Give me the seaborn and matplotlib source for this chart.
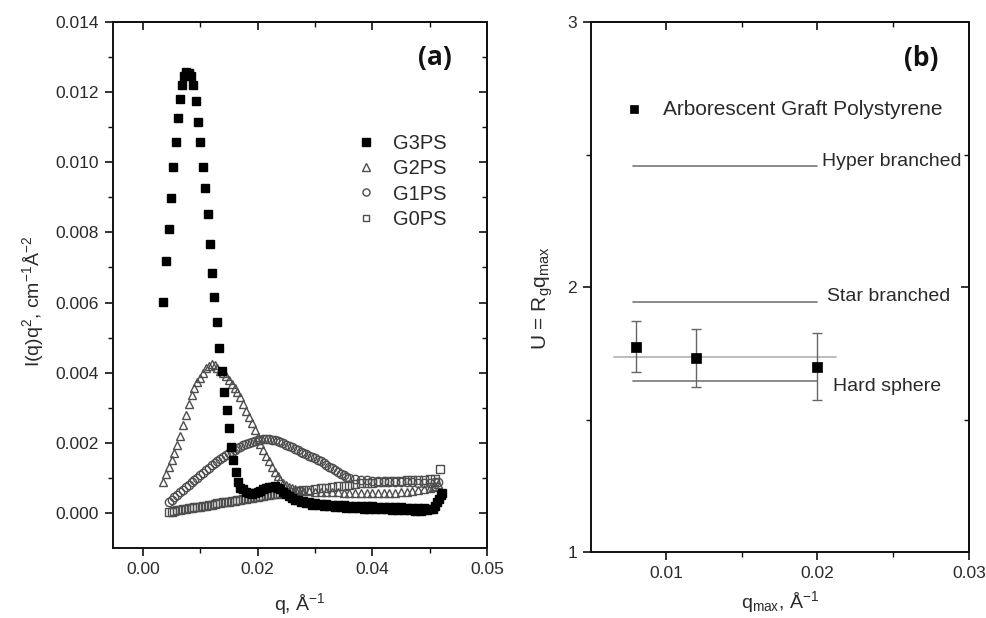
import numpy as np
import pandas as pd
import matplotlib
matplotlib.use("Agg")
import matplotlib.pyplot as plt
from matplotlib.ticker import FixedLocator, FormatStrFormatter
import seaborn as sns

# ---------------- data: panel (a) ----------------
g3_q = [0.0035, 0.0040, 0.0045, 0.0049, 0.0052, 0.0057, 0.0061, 0.0065, 0.0068, 0.0072,
        0.0076, 0.0080, 0.0084, 0.0087, 0.0093, 0.0096, 0.0100, 0.0105, 0.0108, 0.0114,
        0.0117, 0.0121, 0.0124, 0.0129, 0.0133, 0.0138, 0.0142, 0.0147, 0.0150, 0.0154,
        0.0157, 0.0163, 0.0166, 0.0170,
        0.0175, 0.0180, 0.0185, 0.0190, 0.0195, 0.0200, 0.0205, 0.0210, 0.0215, 0.0220,
        0.0225, 0.0230, 0.0235, 0.0240, 0.0245, 0.0250, 0.0255, 0.0260, 0.0265, 0.0270,
        0.0275, 0.0280, 0.0285, 0.0290, 0.0295, 0.0300, 0.0305, 0.0310, 0.0315, 0.0320,
        0.0325, 0.0330, 0.0335, 0.0340, 0.0345, 0.0350, 0.0355, 0.0360, 0.0365, 0.0370,
        0.0375, 0.0380, 0.0385, 0.0390, 0.0395, 0.0400, 0.0405, 0.0410, 0.0415, 0.0420,
        0.0425, 0.0430, 0.0435, 0.0440, 0.0445, 0.0450, 0.0455, 0.0460, 0.0465, 0.0470,
        0.0475, 0.0480, 0.0485, 0.0490, 0.0495, 0.0500, 0.0505, 0.0510, 0.0513, 0.0516,
        0.0519, 0.0521]
g3_y = [0.00602, 0.00719, 0.00810, 0.00899, 0.00987, 0.01058, 0.01127, 0.01181, 0.01221, 0.01245,
        0.01258, 0.01255, 0.01245, 0.01221, 0.01175, 0.01116, 0.01058, 0.00987, 0.00927, 0.00853,
        0.00767, 0.00685, 0.00616, 0.00545, 0.00471, 0.00405, 0.00345, 0.00294, 0.00243, 0.00188,
        0.00151, 0.00117, 0.00089, 0.00072,
        0.00068, 0.00060, 0.00058, 0.00055, 0.00058, 0.00060, 0.00063, 0.00068, 0.00071, 0.00075,
        0.00073, 0.00076, 0.00071, 0.00068, 0.00060, 0.00055, 0.00047, 0.00044, 0.00038, 0.00036,
        0.00031, 0.00033, 0.00027, 0.00030, 0.00024, 0.00028, 0.00022, 0.00026, 0.00020, 0.00025,
        0.00019, 0.00024, 0.00017, 0.00023, 0.00016, 0.00022, 0.00015, 0.00021, 0.00014, 0.00021,
        0.00013, 0.00020, 0.00012, 0.00019, 0.00012, 0.00019, 0.00011, 0.00018, 0.00010, 0.00018,
        0.00010, 0.00017, 0.00009, 0.00017, 0.00008, 0.00016, 0.00008, 0.00015, 0.00007, 0.00015,
        0.00006, 0.00014, 0.00006, 0.00013, 0.00007, 0.00012, 0.00010, 0.00020, 0.00030, 0.00040,
        0.00050, 0.00057]

g2_q = [0.0035, 0.0040, 0.0045, 0.0050, 0.0055, 0.0060, 0.0065, 0.0070, 0.0075, 0.0080,
        0.0085, 0.0090, 0.0095, 0.0100, 0.0105, 0.0110, 0.0115, 0.0120, 0.0125, 0.0130,
        0.0135, 0.0140, 0.0145, 0.0150, 0.0155, 0.0160, 0.0165, 0.0170, 0.0175, 0.0180,
        0.0185, 0.0190, 0.0195, 0.0200, 0.0205, 0.0210, 0.0215, 0.0220, 0.0225, 0.0230,
        0.0235, 0.0240, 0.0245, 0.0250, 0.0255, 0.0260, 0.0265, 0.0270, 0.0275, 0.0280,
        0.0290, 0.0300, 0.0310, 0.0320, 0.0330, 0.0340, 0.0350, 0.0360, 0.0370, 0.0380,
        0.0390, 0.0400, 0.0410, 0.0420, 0.0430, 0.0440, 0.0450, 0.0460, 0.0470, 0.0480,
        0.0490, 0.0500, 0.0505, 0.0510, 0.0515]
g2_y = [0.00088, 0.00110, 0.00130, 0.00150, 0.00172, 0.00195, 0.00220, 0.00250, 0.00280, 0.00310,
        0.00335, 0.00355, 0.00372, 0.00386, 0.00400, 0.00412, 0.00420, 0.00426, 0.00422, 0.00414,
        0.00406, 0.00398, 0.00390, 0.00380, 0.00368, 0.00356, 0.00345, 0.00332, 0.00312, 0.00292,
        0.00274, 0.00256, 0.00236, 0.00216, 0.00198, 0.00180, 0.00163, 0.00148, 0.00132, 0.00118,
        0.00105, 0.00094, 0.00086, 0.00080, 0.00075, 0.00071, 0.00068, 0.00066, 0.00064, 0.00063,
        0.00062, 0.00061, 0.00060, 0.00060, 0.00059, 0.00059, 0.00058, 0.00058, 0.00058, 0.00057,
        0.00057, 0.00057, 0.00057, 0.00057, 0.00058, 0.00058, 0.00059, 0.00060, 0.00062, 0.00064,
        0.00067, 0.00071, 0.00074, 0.00078, 0.00082]

g1_q = [0.0045, 0.0050, 0.0055, 0.0060, 0.0065, 0.0070, 0.0075, 0.0080, 0.0085, 0.0090,
        0.0095, 0.0100, 0.0105, 0.0110, 0.0115, 0.0120, 0.0125, 0.0130, 0.0135, 0.0140,
        0.0145, 0.0150, 0.0155, 0.0160, 0.0165, 0.0170, 0.0175, 0.0180, 0.0185, 0.0190,
        0.0195, 0.0200, 0.0205, 0.0210, 0.0215, 0.0220, 0.0225, 0.0230, 0.0235, 0.0240,
        0.0245, 0.0250, 0.0255, 0.0260, 0.0265, 0.0270, 0.0275, 0.0280, 0.0285, 0.0290,
        0.0295, 0.0300, 0.0305, 0.0310, 0.0315, 0.0320, 0.0325, 0.0330, 0.0335, 0.0340,
        0.0345, 0.0350, 0.0355, 0.0360, 0.0370, 0.0380, 0.0390, 0.0400, 0.0410, 0.0420,
        0.0430, 0.0440, 0.0450, 0.0460, 0.0470, 0.0480, 0.0490, 0.0500, 0.0510, 0.0515]
g1_y = [0.00030, 0.00038, 0.00045, 0.00052, 0.00059, 0.00066, 0.00073, 0.00080, 0.00087, 0.00094,
        0.00101, 0.00108, 0.00115, 0.00122, 0.00129, 0.00136, 0.00142, 0.00148, 0.00154, 0.00160,
        0.00165, 0.00170, 0.00175, 0.00180, 0.00185, 0.00189, 0.00193, 0.00197, 0.00200, 0.00203,
        0.00205, 0.00207, 0.00209, 0.00210, 0.00211, 0.00210, 0.00209, 0.00207, 0.00205, 0.00202,
        0.00199, 0.00195, 0.00191, 0.00187, 0.00183, 0.00179, 0.00175, 0.00171, 0.00167, 0.00163,
        0.00160, 0.00157, 0.00152, 0.00147, 0.00142, 0.00137, 0.00132, 0.00127, 0.00122, 0.00117,
        0.00112, 0.00107, 0.00103, 0.00100, 0.00096, 0.00094, 0.00093, 0.00092, 0.00091, 0.00090,
        0.00089, 0.00088, 0.00088, 0.00087, 0.00087, 0.00086, 0.00086, 0.00086, 0.00087, 0.00089]

g0_q = [0.0045, 0.0050, 0.0055, 0.0060, 0.0065, 0.0070, 0.0075, 0.0080, 0.0085, 0.0090,
        0.0095, 0.0100, 0.0105, 0.0110, 0.0115, 0.0120, 0.0125, 0.0130, 0.0135, 0.0140,
        0.0145, 0.0150, 0.0155, 0.0160, 0.0165, 0.0170, 0.0175, 0.0180, 0.0185, 0.0190,
        0.0195, 0.0200, 0.0205, 0.0210, 0.0215, 0.0220, 0.0225, 0.0230, 0.0235, 0.0240,
        0.0245, 0.0250, 0.0260, 0.0270, 0.0280, 0.0290, 0.0300, 0.0310, 0.0320, 0.0330,
        0.0340, 0.0350, 0.0360, 0.0370, 0.0380, 0.0390, 0.0400, 0.0410, 0.0420, 0.0430,
        0.0440, 0.0450, 0.0460, 0.0470, 0.0480, 0.0490, 0.0500, 0.0510, 0.0518]
g0_y = [0.00002, 0.00004, 0.00005, 0.00007, 0.00008, 0.00010, 0.00011, 0.00013, 0.00014, 0.00016,
        0.00017, 0.00018, 0.00020, 0.00021, 0.00023, 0.00024, 0.00026, 0.00027, 0.00028, 0.00030,
        0.00031, 0.00032, 0.00034, 0.00035, 0.00037, 0.00038, 0.00040, 0.00041, 0.00042, 0.00044,
        0.00045, 0.00046, 0.00048, 0.00049, 0.00050, 0.00052, 0.00053, 0.00054, 0.00055, 0.00056,
        0.00057, 0.00058, 0.00060, 0.00062, 0.00064, 0.00066, 0.00068, 0.00070, 0.00072, 0.00074,
        0.00076, 0.00078, 0.00080, 0.00082, 0.00084, 0.00085, 0.00086, 0.00088, 0.00089, 0.00090,
        0.00091, 0.00092, 0.00093, 0.00094, 0.00095, 0.00095, 0.00096, 0.00097, 0.00126]

# tick positions and the tick texts exactly as printed in the reference figure
x_ticks_a = [0.00, 0.02, 0.04, 0.06]
x_tick_labels_a = ["0.00", "0.02", "0.04", "0.05"]

# ---------------- data: panel (b) ----------------
qmax = [0.008, 0.012, 0.020]
U_val = [1.774, 1.732, 1.700]
U_err = [0.096, 0.110, 0.125]
ref_names = ["Hyper branched", "Star branched", "Hard sphere"]
ref_U = [2.457, 1.943, 1.645]
ref_q_start = [0.0078, 0.0078, 0.0078]
ref_q_end = [0.0200, 0.0200, 0.0200]
mean_U = 1.736
mean_q = [0.0066, 0.0212]

# ---------------- style ----------------
sns.set_theme(style="ticks")
plt.rcParams["font.family"] = ["Liberation Sans", "DejaVu Sans"]
plt.rcParams["mathtext.fontset"] = "custom"
plt.rcParams["mathtext.rm"] = "Liberation Sans"
plt.rcParams["mathtext.it"] = "Liberation Sans:italic"
plt.rcParams["mathtext.bf"] = "Liberation Sans:bold"

TXT = "#2a2a2a"
GREY = "#4e4e4e"

fig = plt.figure(figsize=(9.87, 6.18), dpi=100)
fig.patch.set_facecolor("white")

W, H = 987.0, 618.0
axA = fig.add_axes([113 / W, 1 - 548 / H, (487 - 113) / W, (548 - 22) / H])
axB = fig.add_axes([591 / W, 1 - 552 / H, (969 - 591) / W, (552 - 22) / H])


def style_axes(ax, xmaj, xmin_, ymaj, ymin_, xfmt, yfmt):
    for s in ax.spines.values():
        s.set_linewidth(1.4)
        s.set_color("#111111")
        s.set_visible(True)
    ax.xaxis.set_major_locator(FixedLocator(xmaj))
    ax.xaxis.set_minor_locator(FixedLocator(xmin_))
    ax.yaxis.set_major_locator(FixedLocator(ymaj))
    ax.yaxis.set_minor_locator(FixedLocator(ymin_))
    ax.xaxis.set_major_formatter(FormatStrFormatter(xfmt))
    ax.yaxis.set_major_formatter(FormatStrFormatter(yfmt))
    ax.tick_params(which="major", direction="out", length=6, width=1.2,
                   labelsize=12.5, labelcolor=TXT, color="#111111", pad=4)
    ax.tick_params(which="minor", direction="out", length=3.5, width=1.0, color="#111111")
    top = ax.secondary_xaxis("top")
    top.xaxis.set_major_locator(FixedLocator(xmaj))
    top.xaxis.set_minor_locator(FixedLocator(xmin_))
    top.tick_params(which="major", direction="in", length=6, width=1.2, labeltop=False, color="#111111")
    top.tick_params(which="minor", direction="in", length=3.5, width=1.0, color="#111111")
    top.spines["top"].set_linewidth(1.4)
    right = ax.secondary_yaxis("right")
    right.yaxis.set_major_locator(FixedLocator(ymaj))
    right.yaxis.set_minor_locator(FixedLocator(ymin_))
    right.tick_params(which="major", direction="in", length=6, width=1.2, labelright=False, color="#111111")
    right.tick_params(which="minor", direction="in", length=3.5, width=1.0, color="#111111")
    right.spines["right"].set_linewidth(1.4)


# ---------------- panel (a) ----------------
series = [
    ("G3PS", g3_q, g3_y, "s", "black", "black", 6.4),
    ("G2PS", g2_q, g2_y, "^", "none", GREY, 6.4),
    ("G1PS", g1_q, g1_y, "o", "none", GREY, 6.0),
    ("G0PS", g0_q, g0_y, "s", "none", GREY, 5.8),
]
for name, q, y, mk, fc, ec, ms in reversed(series):
    df = pd.DataFrame({"q": q, "y": y})
    sns.lineplot(data=df, x="q", y="y", ax=axA, estimator=None, sort=False,
                 linestyle="", marker=mk, markersize=ms, mfc=fc, mec=ec, mew=1.0,
                 color=ec if fc == "none" else "black", label=name)

axA.set_xlim(-0.0052, 0.06)
axA.set_ylim(-0.001, 0.014)
style_axes(axA, x_ticks_a, [0.01, 0.03, 0.05],
           [0.000, 0.002, 0.004, 0.006, 0.008, 0.010, 0.012, 0.014],
           [0.001, 0.003, 0.005, 0.007, 0.009, 0.011, 0.013],
           "%.2f", "%.3f")
axA.set_xticklabels(x_tick_labels_a)
axA.set_xlabel(r"q, Å$^{\mathregular{-1}}$", fontsize=14, color=TXT)
axA.set_ylabel(r"I(q)q$^{\mathregular{2}}$, cm$^{\mathregular{-1}}$Å$^{\mathregular{-2}}$",
               fontsize=14, color=TXT)
axA.xaxis.set_label_coords(0.5, -0.082)
axA.yaxis.set_label_coords(-0.18, 0.47)

handles, labels = axA.get_legend_handles_labels()
order = [labels.index(n) for n in ["G3PS", "G2PS", "G1PS", "G0PS"]]
legA = axA.legend([handles[i] for i in order], [labels[i] for i in order],
                  loc="upper left", bbox_to_anchor=(0.650, 0.787), frameon=False,
                  fontsize=14.5, handlelength=1.0, handletextpad=0.85,
                  labelspacing=0.31, borderpad=0, borderaxespad=0, markerscale=0.85)
for t in legA.get_texts():
    t.set_color(TXT)

axA.text(0.861, 0.932, "(a)", transform=axA.transAxes, fontsize=19, fontweight="bold",
         family="Open Sans", ha="center", va="center", color="#111111")

# ---------------- panel (b) ----------------
for yv, x0, x1 in zip(ref_U, ref_q_start, ref_q_end):
    axB.plot([x0, x1], [yv, yv], color="#777777", lw=1.2, zorder=1)
axB.plot(mean_q, [mean_U, mean_U], color="#b0b0b0", lw=1.2, zorder=1)

axB.errorbar(qmax, U_val, yerr=U_err, fmt="none", ecolor="#666666", elinewidth=1.0,
             capsize=3.5, capthick=1.0, zorder=2)
dfB = pd.DataFrame({"qmax": qmax, "U": U_val})
sns.scatterplot(data=dfB, x="qmax", y="U", ax=axB, marker="s", s=62, color="black",
                edgecolor="black", linewidth=0.5, zorder=3,
                label="Arborescent Graft Polystyrene")

axB.text(0.0203, 2.472, ref_names[0], fontsize=14, color=TXT, ha="left", va="center")
axB.text(0.02064, 1.966, ref_names[1], fontsize=14, color=TXT, ha="left", va="center")
axB.text(0.0210, 1.626, ref_names[2], fontsize=14, color=TXT, ha="left", va="center")

axB.set_xlim(0.00505, 0.03)
axB.set_ylim(1, 3)
style_axes(axB, [0.01, 0.02, 0.03], [0.005, 0.015, 0.025], [1, 2, 3], [1.5, 2.5],
           "%.2f", "%d")
axB.set_xlabel(r"q$_{\mathregular{max}}$, Å$^{\mathregular{-1}}$", fontsize=14, color=TXT)
axB.set_ylabel(r"U = R$_{\mathregular{g}}$q$_{\mathregular{max}}$", fontsize=15, color=TXT)
axB.xaxis.set_label_coords(0.5, -0.07)
axB.yaxis.set_label_coords(-0.095, 0.48)

legB = axB.legend(loc="upper left", bbox_to_anchor=(0.085, 0.853), frameon=False,
                  fontsize=15, handlelength=1.0, handletextpad=0.9,
                  borderpad=0, borderaxespad=0, markerscale=0.75)
for t in legB.get_texts():
    t.set_color(TXT)

axB.text(0.873, 0.932, "(b)", transform=axB.transAxes, fontsize=19, fontweight="bold",
         family="Open Sans", ha="center", va="center", color="#111111")

fig.savefig("out.png", dpi=100, facecolor="white")
